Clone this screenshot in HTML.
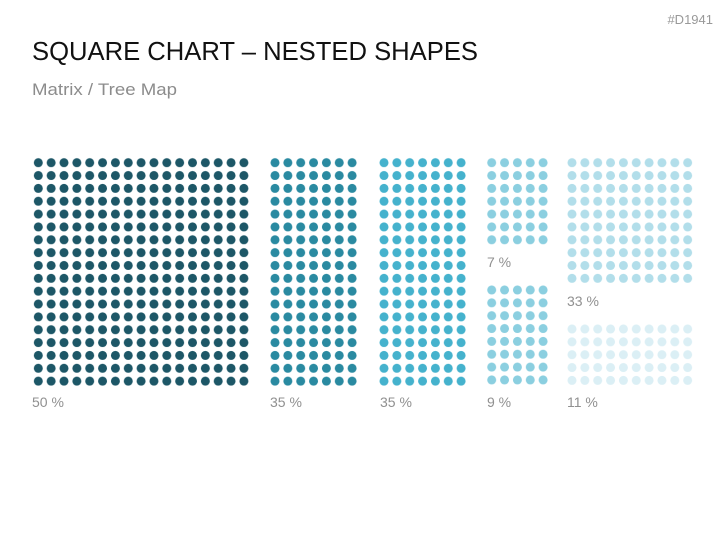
<!DOCTYPE html>
<html><head><meta charset="utf-8"><style>html,body{margin:0;padding:0;background:#fff}svg{display:block}</style></head>
<body>
<svg width="727" height="545" viewBox="0 0 727 545" xmlns="http://www.w3.org/2000/svg" font-family="Liberation Sans, sans-serif">
<defs>
<pattern id="p1" patternUnits="userSpaceOnUse" x="31.9" y="156.3" width="12.85" height="12.85"><circle cx="6.4" cy="6.4" r="4.5" fill="#1d5767"/></pattern>
<pattern id="p2" patternUnits="userSpaceOnUse" x="268.6" y="156.3" width="12.85" height="12.85"><circle cx="6.4" cy="6.4" r="4.5" fill="#2a8aa1"/></pattern>
<pattern id="p3" patternUnits="userSpaceOnUse" x="377.6" y="156.3" width="12.85" height="12.85"><circle cx="6.4" cy="6.4" r="4.5" fill="#45b2cd"/></pattern>
<pattern id="p4a" patternUnits="userSpaceOnUse" x="485.3" y="156.3" width="12.85" height="12.85"><circle cx="6.4" cy="6.4" r="4.5" fill="#8bcfe0"/></pattern>
<pattern id="p4b" patternUnits="userSpaceOnUse" x="485.3" y="283.6" width="12.85" height="12.85"><circle cx="6.4" cy="6.4" r="4.5" fill="#8bcfe0"/></pattern>
<pattern id="p5a" patternUnits="userSpaceOnUse" x="565.6" y="156.3" width="12.85" height="12.85"><circle cx="6.4" cy="6.4" r="4.5" fill="#b2deea"/></pattern>
<pattern id="p5b" patternUnits="userSpaceOnUse" x="565.6" y="322.6" width="12.85" height="12.85"><circle cx="6.4" cy="6.4" r="4.5" fill="#dbeff5"/></pattern>
</defs>
<text x="32" y="60" font-size="26" fill="#111" textLength="446" lengthAdjust="spacingAndGlyphs">SQUARE CHART – NESTED SHAPES</text>
<text x="32" y="95" font-size="17" fill="#8c8c8c" textLength="145" lengthAdjust="spacingAndGlyphs">Matrix / Tree Map</text>
<text x="713" y="24" font-size="13" fill="#999" text-anchor="end">#D1941</text>
<rect x="31.9" y="156.3" width="218.45" height="231.3" fill="url(#p1)"/>
<rect x="268.6" y="156.3" width="89.95" height="231.3" fill="url(#p2)"/>
<rect x="377.6" y="156.3" width="89.95" height="231.3" fill="url(#p3)"/>
<rect x="485.3" y="156.3" width="64.25" height="89.95" fill="url(#p4a)"/>
<rect x="485.3" y="283.6" width="64.25" height="102.8" fill="url(#p4b)"/>
<rect x="565.6" y="156.3" width="128.5" height="128.5" fill="url(#p5a)"/>
<rect x="565.6" y="322.6" width="128.5" height="64.25" fill="url(#p5b)"/>
<g font-size="14" fill="#909090">
<text x="32" y="407">50 %</text>
<text x="270" y="407">35 %</text>
<text x="380" y="407">35 %</text>
<text x="487" y="407">9 %</text>
<text x="567" y="407">11 %</text>
<text x="487" y="267">7 %</text>
<text x="567" y="306">33 %</text>
</g>
</svg>
</body></html>
